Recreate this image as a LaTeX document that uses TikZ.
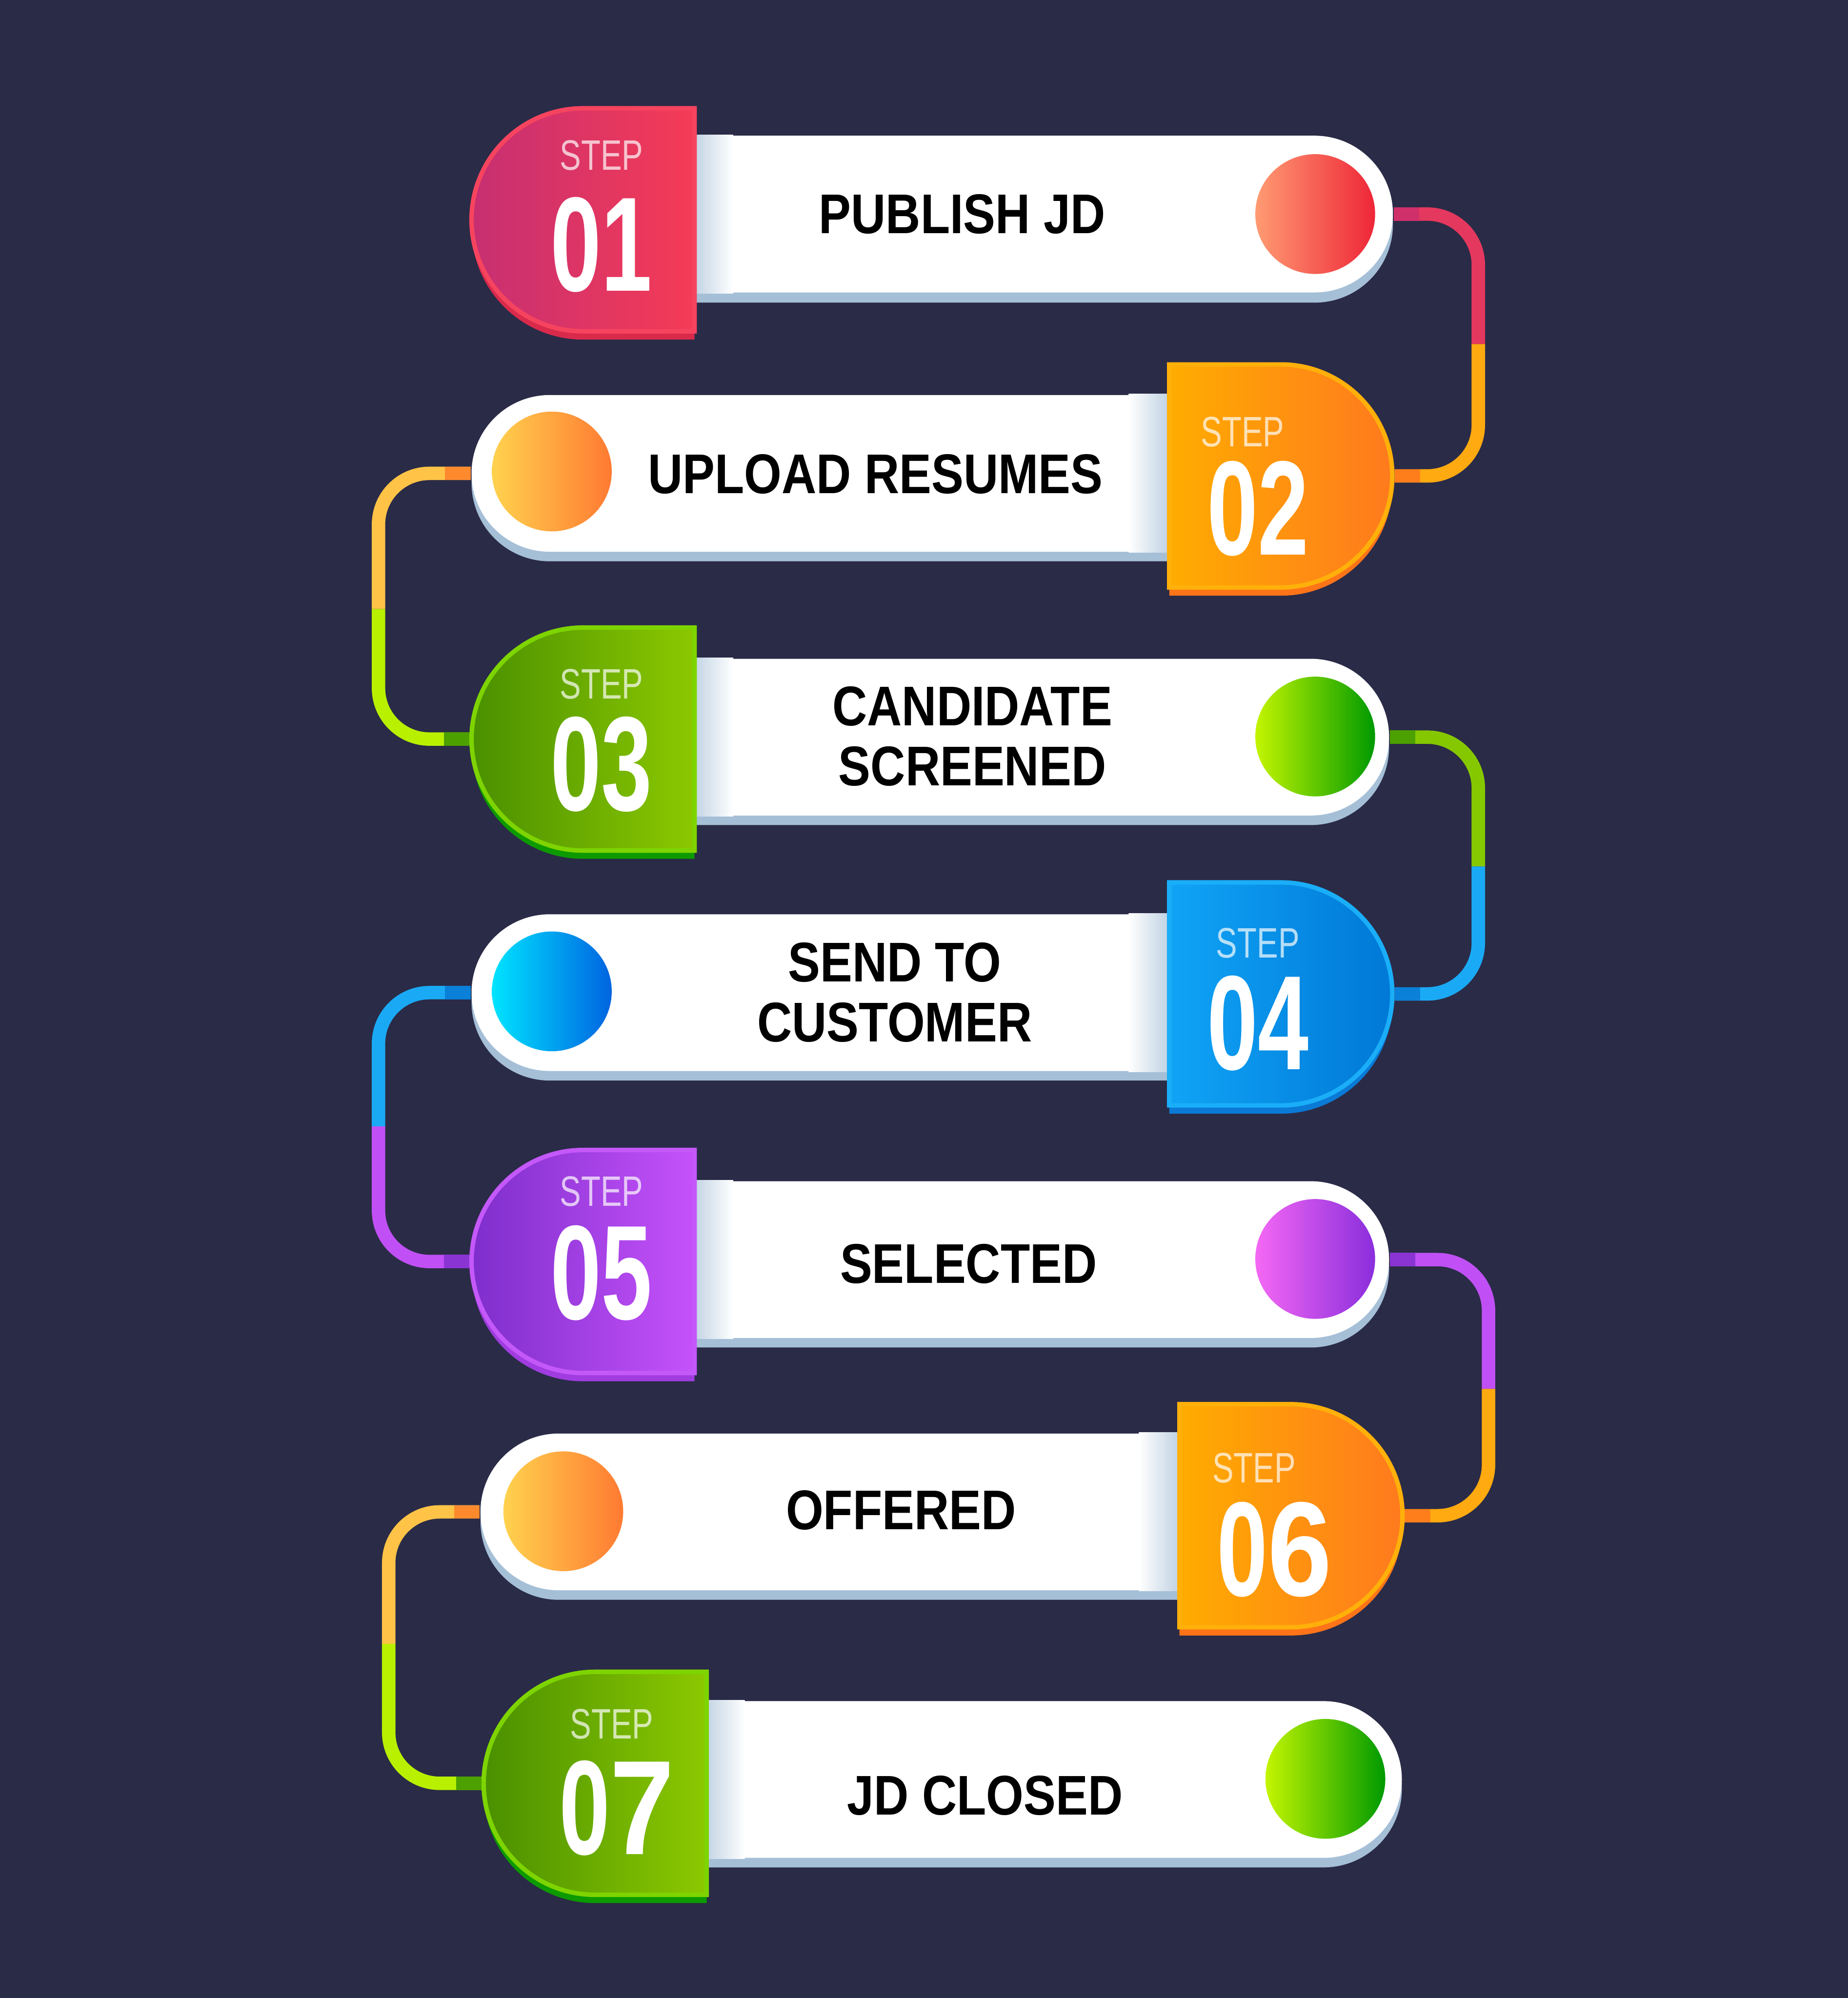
\documentclass[tikz,border=0pt]{standalone}
\usepackage{fontspec}
\setmainfont{Liberation Sans}
\newfontfamily\labelfont{Liberation Sans}[FakeStretch=0.86]
\newfontfamily\stepfont{Liberation Sans}[FakeStretch=0.75]
\newfontfamily\numfont{Liberation Sans}[FakeStretch=0.68]
\newfontfamily\fixfont{Liberation Sans}[FakeStretch=0.86]
\usetikzlibrary{shapes.misc,backgrounds,calc}

\definecolor{bgnavy}{HTML}{2A2B47}
\definecolor{pillblue}{HTML}{A5BFD7}
% badge colours
\definecolor{redA}{HTML}{C62F72}
\definecolor{redB}{HTML}{F53B56}
\definecolor{redEdge}{HTML}{F6445F}
\definecolor{redLow}{HTML}{D92A4C}
\definecolor{orgA}{HTML}{FFAC00}
\definecolor{orgB}{HTML}{FF7A1E}
\definecolor{orgEdge}{HTML}{FFB00A}
\definecolor{orgLow}{HTML}{FF7418}
\definecolor{grnA}{HTML}{4A9000}
\definecolor{grnB}{HTML}{8CC800}
\definecolor{grnEdge}{HTML}{7ED400}
\definecolor{grnLow}{HTML}{0C9A00}
\definecolor{bluA}{HTML}{10A4F6}
\definecolor{bluB}{HTML}{0078D6}
\definecolor{bluEdge}{HTML}{1AAEF8}
\definecolor{bluLow}{HTML}{0A7AD6}
\definecolor{purA}{HTML}{7E2ECC}
\definecolor{purB}{HTML}{C552FA}
\definecolor{purEdge}{HTML}{C458F8}
\definecolor{purLow}{HTML}{A03CE0}
% dot colours
\definecolor{dotRa}{HTML}{FF9B72}
\definecolor{dotRb}{HTML}{EE2638}
\definecolor{dotOa}{HTML}{FFD24E}
\definecolor{dotOb}{HTML}{FF7A32}
\definecolor{dotGa}{HTML}{C4F500}
\definecolor{dotGb}{HTML}{009A00}
\definecolor{dotBa}{HTML}{00E4FF}
\definecolor{dotBb}{HTML}{0064E0}
\definecolor{dotPa}{HTML}{F468F4}
\definecolor{dotPb}{HTML}{8A2EDC}
% wire colours
\definecolor{wRed}{HTML}{E5385E}
\definecolor{wRedDk}{HTML}{D0306A}
\definecolor{wOrg}{HTML}{FFAA10}
\definecolor{wOrgDk}{HTML}{FF7E1C}
\definecolor{wYel}{HTML}{FFC347}
\definecolor{wYelDk}{HTML}{FF8A2E}
\definecolor{wLime}{HTML}{B8F000}
\definecolor{wGrn}{HTML}{86C800}
\definecolor{wGrnDk}{HTML}{4CA000}
\definecolor{wBlu}{HTML}{1AAAF5}
\definecolor{wBluDk}{HTML}{0A80D8}
\definecolor{wPur}{HTML}{C050F5}
\definecolor{wPurDk}{HTML}{8A34D4}

\begin{document}
\begin{tikzpicture}[
    badgeL/.style={rounded rectangle, rounded rectangle east arc=none, minimum width=1.71cm, minimum height=1.75cm, inner sep=0pt, line width=1pt},
    badgeR/.style={rounded rectangle, rounded rectangle west arc=none, minimum width=1.71cm, minimum height=1.75cm, inner sep=0pt, line width=1pt},
    pillL/.style={rounded rectangle, rounded rectangle west arc=none, minimum width=5.6cm, minimum height=1.23cm, inner sep=0pt},
    pillR/.style={rounded rectangle, rounded rectangle east arc=none, minimum width=5.6cm, minimum height=1.23cm, inner sep=0pt},
    dot/.style={circle, minimum size=0.94cm, inner sep=0pt},
    boxtext/.style={font=\labelfont\bfseries\fontsize{12.5}{13.4}\selectfont, align=center, inner sep=0pt, text=black},
    steptxt/.style={font=\stepfont\fontsize{9.5}{10}\selectfont, text=white, text opacity=0.7, inner sep=0pt},
    numtxt/.style={font=\numfont\bfseries\fontsize{30}{30}\selectfont, text=white, inner sep=0pt},
    wire/.style={line width=3pt, rounded corners=0.4cm},
    stub/.style={line width=3pt}
]
\useasboundingbox (0,0) rectangle (14.5,-15.68);
\begin{pgfonlayer}{background}
\fill[bgnavy] (0,0) rectangle (14.5,-15.68);
\end{pgfonlayer}

% pills
\node[pillL, fill=pillblue, minimum width=5.62cm] (p1s) at (8.12,-1.76) {};
\node[pillL, fill=white, minimum width=5.62cm] (p1) at (8.12,-1.68) {};
\node[pillR, fill=pillblue] (p2s) at (6.50,-3.79) {};
\node[pillR, fill=white] (p2) at (6.50,-3.715) {};
\node[pillL, fill=pillblue, minimum width=5.59cm] (p3s) at (8.105,-5.86) {};
\node[pillL, fill=white, minimum width=5.59cm] (p3) at (8.105,-5.785) {};
\node[pillR, fill=pillblue] (p4s) at (6.50,-7.865) {};
\node[pillR, fill=white] (p4) at (6.50,-7.79) {};
\node[pillL, fill=pillblue, minimum width=5.59cm] (p5s) at (8.105,-9.96) {};
\node[pillL, fill=white, minimum width=5.59cm] (p5) at (8.105,-9.885) {};
\node[pillR, fill=pillblue, minimum width=5.61cm] (p6s) at (6.575,-11.94) {};
\node[pillR, fill=white, minimum width=5.61cm] (p6) at (6.575,-11.865) {};
\node[pillL, fill=pillblue] (p7s) at (8.20,-14.04) {};
\node[pillL, fill=white] (p7) at (8.20,-13.965) {};

% fades where the pills meet the badges
\fill[left color=pillblue, right color=white] (p1.west |- p1.north) rectangle ($(p1.west |- p1.south)+(0.45,0)$);
\fill[left color=white, right color=pillblue] ($(p2.east |- p2.north)+(-0.45,0)$) rectangle (p2.east |- p2.south);
\fill[left color=pillblue, right color=white] (p3.west |- p3.north) rectangle ($(p3.west |- p3.south)+(0.45,0)$);
\fill[left color=white, right color=pillblue] ($(p4.east |- p4.north)+(-0.45,0)$) rectangle (p4.east |- p4.south);
\fill[left color=pillblue, right color=white] (p5.west |- p5.north) rectangle ($(p5.west |- p5.south)+(0.45,0)$);
\fill[left color=white, right color=pillblue] ($(p6.east |- p6.north)+(-0.45,0)$) rectangle (p6.east |- p6.south);
\fill[left color=pillblue, right color=white] (p7.west |- p7.north) rectangle ($(p7.west |- p7.south)+(0.45,0)$);

% dots
\node[dot, left color=dotRa, right color=dotRb] (d1) at (10.32,-1.68) {};
\node[dot, left color=dotOa, right color=dotOb] (d2) at (4.33,-3.70) {};
\node[dot, left color=dotGa, right color=dotGb] (d3) at (10.32,-5.78) {};
\node[dot, left color=dotBa, right color=dotBb] (d4) at (4.33,-7.78) {};
\node[dot, left color=dotPa, right color=dotPb] (d5) at (10.32,-9.88) {};
\node[dot, left color=dotOa, right color=dotOb] (d6) at (4.42,-11.86) {};
\node[dot, left color=dotGa, right color=dotGb] (d7) at (10.40,-13.96) {};

% texts
\node[boxtext] (t1) at (7.55,-1.68) {PUBLISH JD};
\node[boxtext] (t2) at (6.87,-3.72) {UPLOAD RESUMES};
\node[boxtext] (t3) at (7.63,-5.78) {CANDIDATE\\SCREENED};
\node[boxtext] (t4) at (7.02,-7.79) {SEND TO\\CUSTOMER};
\node[boxtext] (t5) at (7.60,-9.92) {SELECTED};
\node[boxtext] (t6) at (7.07,-11.85) {OFFERED};
\node[boxtext] (t7) at (7.73,-14.09) {JD CLOSED};

% badges
\node[badgeL, fill=redLow] (b1s) at (4.575,-1.79) {};
\node[badgeL, left color=redA, right color=redB, draw=redEdge] (b1) at (4.575,-1.725) {};
\node[badgeR, fill=orgLow] (b2s) at (10.05,-3.80) {};
\node[badgeR, left color=orgA, right color=orgB, draw=orgEdge] (b2) at (10.05,-3.735) {};
\node[badgeL, fill=grnLow] (b3s) at (4.575,-5.865) {};
\node[badgeL, left color=grnA, right color=grnB, draw=grnEdge] (b3) at (4.575,-5.80) {};
\node[badgeR, fill=bluLow] (b4s) at (10.05,-7.865) {};
\node[badgeR, left color=bluA, right color=bluB, draw=bluEdge] (b4) at (10.05,-7.80) {};
\node[badgeL, fill=purLow] (b5s) at (4.575,-9.965) {};
\node[badgeL, left color=purA, right color=purB, draw=purEdge] (b5) at (4.575,-9.90) {};
\node[badgeR, fill=orgLow] (b6s) at (10.13,-11.96) {};
\node[badgeR, left color=orgA, right color=orgB, draw=orgEdge] (b6) at (10.13,-11.895) {};
\node[badgeL, fill=grnLow] (b7s) at (4.67,-14.06) {};
\node[badgeL, left color=grnA, right color=grnB, draw=grnEdge] (b7) at (4.67,-13.995) {};

% badge texts
\node[steptxt] (s1) at (4.72,-1.22) {STEP};
\node[numtxt] (n1) at (4.72,-1.92) {01};
\node[steptxt] (s2) at (9.75,-3.39) {STEP};
\node[numtxt] (n2) at (9.87,-3.99) {02};
\node[steptxt] (s3) at (4.72,-5.37) {STEP};
\node[numtxt] (n3) at (4.72,-6.00) {03};
\node[steptxt] (s4) at (9.87,-7.40) {STEP};
\node[numtxt] (n4) at (9.87,-8.03) {04};
\node[steptxt] (s5) at (4.72,-9.35) {STEP};
\node[numtxt] (n5) at (4.72,-9.99) {05};
\node[steptxt] (s6) at (9.84,-11.52) {STEP};
\node[numtxt] (n6) at (10.00,-12.16) {0{\fixfont 6}};
\node[steptxt] (s7) at (4.80,-13.53) {STEP};
\node[numtxt] (n7) at (4.84,-14.19) {0{\fixfont 7}};

% connectors
\begin{pgfonlayer}{background}
\coordinate (m1) at (11.60,-2.70);
\coordinate (m2) at (2.97,-4.78);
\coordinate (m3) at (11.60,-6.80);
\coordinate (m4) at (2.97,-8.84);
\coordinate (m5) at (11.68,-10.90);
\coordinate (m6) at (3.05,-12.90);

\draw[wire, draw=wRed] (p1.east) -| (m1);
\draw[wire, draw=wOrg] (m1) |- (b2.east);
\draw[wire, draw=wYel] (p2.west) -| (m2);
\draw[wire, draw=wLime] (m2) |- (b3.west);
\draw[wire, draw=wGrn] (p3.east) -| (m3);
\draw[wire, draw=wBlu] (m3) |- (b4.east);
\draw[wire, draw=wBlu] (p4.west) -| (m4);
\draw[wire, draw=wPur] (m4) |- (b5.west);
\draw[wire, draw=wPur] (p5.east) -| (m5);
\draw[wire, draw=wOrg] (m5) |- (b6.east);
\draw[wire, draw=wYel] (p6.west) -| (m6);
\draw[wire, draw=wLime] (m6) |- (b7.west);

\draw[stub, draw=wRedDk] (p1.east) -- ++(0.2,0);
\draw[stub, draw=wOrgDk] (b2.east) -- ++(0.2,0);
\draw[stub, draw=wYelDk] (p2.west) -- ++(-0.2,0);
\draw[stub, draw=wGrnDk] (b3.west) -- ++(-0.2,0);
\draw[stub, draw=wGrnDk] (p3.east) -- ++(0.2,0);
\draw[stub, draw=wBluDk] (b4.east) -- ++(0.2,0);
\draw[stub, draw=wBluDk] (p4.west) -- ++(-0.2,0);
\draw[stub, draw=wPurDk] (b5.west) -- ++(-0.2,0);
\draw[stub, draw=wPurDk] (p5.east) -- ++(0.2,0);
\draw[stub, draw=wOrgDk] (b6.east) -- ++(0.2,0);
\draw[stub, draw=wYelDk] (p6.west) -- ++(-0.2,0);
\draw[stub, draw=wGrnDk] (b7.west) -- ++(-0.2,0);
\end{pgfonlayer}
\end{tikzpicture}
\end{document}
